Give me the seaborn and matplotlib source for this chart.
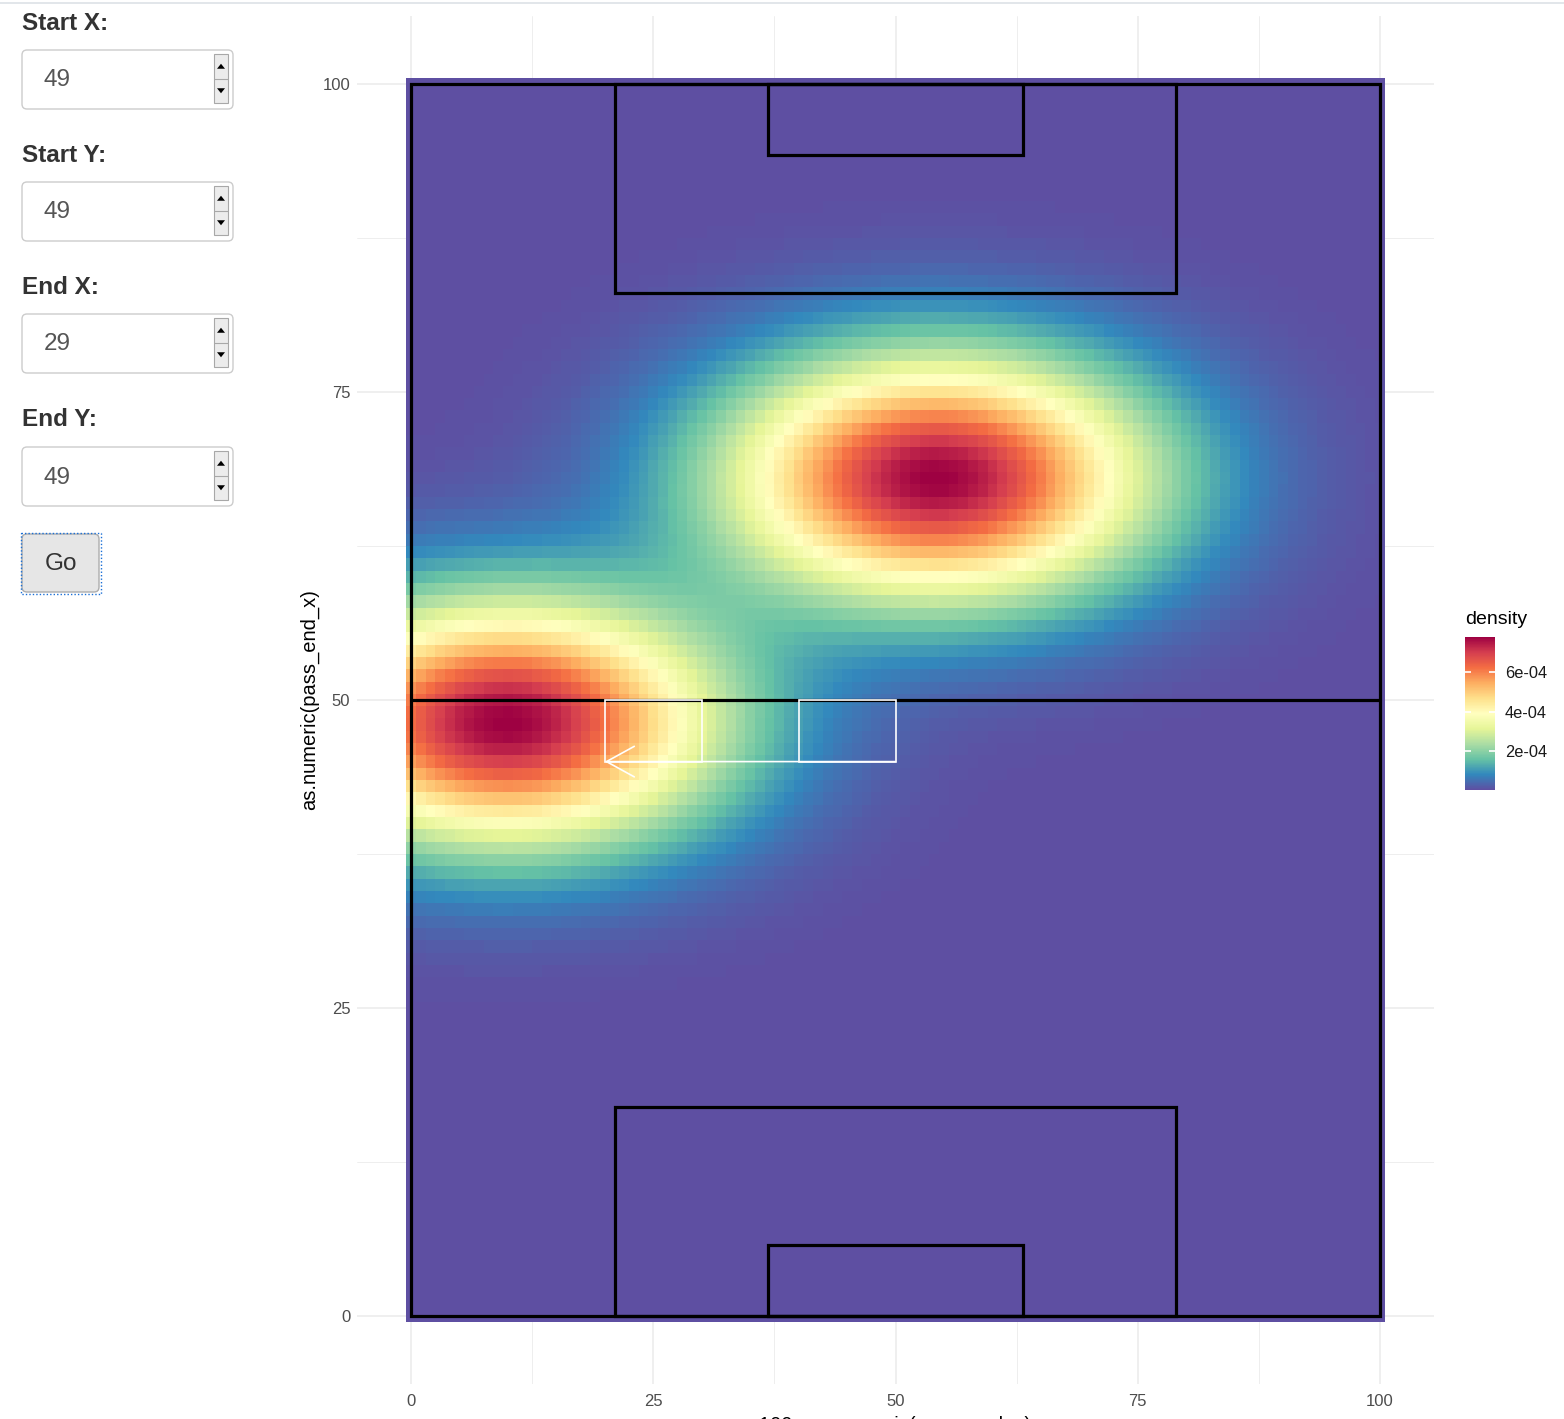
import numpy as np
import matplotlib
matplotlib.use("Agg")
import matplotlib.pyplot as plt
from matplotlib.patches import FancyBboxPatch, Rectangle, Polygon
import seaborn as sns

# ---------------------------------------------------------------
# Data
# ---------------------------------------------------------------
# pass end locations: horizontal axis = pass_end_y, vertical axis = pass_end_x
pass_end_y = [9.9, 54.3]
pass_end_x = [48.2, 68.0]
# kernel standard deviation along each axis
bw_y = 15.0
bw_x = 6.8

grid_vals = np.arange(0, 101)            # raster cell centres

axis_ticks = [0, 25, 50, 75, 100]
minor_ticks = [12.5, 37.5, 62.5, 87.5]
colorbar_ticks = [2e-4, 4e-4, 6e-4]
colorbar_labels = ["2e-04", "4e-04", "6e-04"]

# pitch markings (x0, x1, y0, y1)
pitch_outline = (0, 100, 0, 100)
halfway_line = 50
pitch_boxes = [
    (21.1, 78.9, 83.0, 100.0),
    (36.8, 63.2, 94.2, 100.0),
    (21.1, 78.9, 0.0, 17.0),
    (36.8, 63.2, 0.0, 5.8),
]

# selected zones and pass direction
start_zone = (40, 50, 45, 50)
end_zone = (20, 30, 45, 50)
pass_from = (50, 45)
pass_to = (20, 45)

# input panel
widget_labels = ["Start X:", "Start Y:", "End X:", "End Y:"]
widget_values = [49, 49, 29, 49]
button_label = "Go"

x_label = "100 - as.numeric(pass_end_y)"
y_label = "as.numeric(pass_end_x)"
legend_title = "density"

# ---------------------------------------------------------------
# Style
# ---------------------------------------------------------------
sns.set_theme(style="white")
plt.rcParams["font.family"] = ["Liberation Sans", "DejaVu Sans"]

W, H = 1564, 1419
DPI = 100
fig = plt.figure(figsize=(W / DPI, H / DPI), dpi=DPI)
fig.patch.set_facecolor("white")


def px_rect(x0, y0, x1, y1):
    """figure-fraction rect from pixel box (top-left origin)"""
    return [x0 / W, 1 - y1 / H, (x1 - x0) / W, (y1 - y0) / H]


# ---------------------------------------------------------------
# Density raster
# ---------------------------------------------------------------
gx, gy = np.meshgrid(grid_vals, grid_vals)
dens = np.zeros_like(gx, dtype=float)
for py_, px_ in zip(pass_end_y, pass_end_x):
    dens += np.exp(-0.5 * ((gx - py_) / bw_y) ** 2 - 0.5 * ((gy - px_) / bw_x) ** 2)
dens /= (2 * np.pi * bw_x * bw_y * len(pass_end_y))

cmap = sns.color_palette("Spectral_r", as_cmap=True)

lim = (-5.55, 105.55)
ax = fig.add_axes(px_rect(357.2, 15.6, 1433.8, 1384.4))
ax.set_facecolor("white")
edges = np.arange(-0.5, 101.5, 1.0)
mesh = ax.pcolormesh(edges, edges, dens, cmap=cmap, shading="flat",
                     vmin=dens.min(), vmax=dens.max(), antialiased=False,
                     linewidth=0, zorder=1)

ax.set_xlim(*lim)
ax.set_ylim(*lim)
ax.set_xticks(axis_ticks)
ax.set_yticks(axis_ticks)
ax.set_xticks(minor_ticks, minor=True)
ax.set_yticks(minor_ticks, minor=True)
ax.set_xticklabels([str(t) for t in axis_ticks])
ax.set_yticklabels([str(t) for t in axis_ticks])
ax.grid(which="major", color="#ebebeb", lw=1.1)
ax.grid(which="minor", color="#ebebeb", lw=0.6)
ax.set_axisbelow(True)
for s in ax.spines.values():
    s.set_visible(False)
ax.tick_params(which="both", length=0)
ax.tick_params(axis="y", pad=5, labelsize=12, labelcolor="#4d4d4d")
ax.tick_params(axis="x", pad=7, labelsize=12, labelcolor="#4d4d4d")

# pitch lines
pk = dict(fill=False, ec="black", lw=2.3, zorder=3, joinstyle="miter")
x0, x1, y0, y1 = pitch_outline
ax.add_patch(Rectangle((x0, y0), x1 - x0, y1 - y0, **pk))
ax.plot([x0, x1], [halfway_line, halfway_line], color="black", lw=2.3, zorder=3)
for bx0, bx1, by0, by1 in pitch_boxes:
    ax.add_patch(Rectangle((bx0, by0), bx1 - bx0, by1 - by0, **pk))

# selected zones
for zx0, zx1, zy0, zy1 in (start_zone, end_zone):
    ax.add_patch(Rectangle((zx0, zy0), zx1 - zx0, zy1 - zy0, fill=False,
                           ec="white", lw=1.2, zorder=4))
ax.annotate("", xy=pass_to, xytext=pass_from,
            arrowprops=dict(arrowstyle="->,head_length=2.0,head_width=1.1",
                            color="white", lw=1.2, shrinkA=0, shrinkB=0,
                            mutation_scale=10),
            zorder=5)

# axis titles
ax.set_ylabel(y_label, fontsize=14.5, color="black", va="center")
ax.yaxis.set_label_coords((310 - 357.2) / (1433.8 - 357.2), 0.5)
ax.set_xlabel(x_label, fontsize=14.5, color="black", va="top")
ax.xaxis.set_label_coords(0.5, -(1416 - 1384.4) / (1384.4 - 15.6))

# ---------------------------------------------------------------
# Colour bar legend
# ---------------------------------------------------------------
cax = fig.add_axes(px_rect(1465, 637, 1495, 790))
cb = fig.colorbar(mesh, cax=cax, ticks=colorbar_ticks)
cb.outline.set_visible(False)
cax.set_yticklabels(colorbar_labels)
cax.tick_params(length=0, pad=7, labelsize=11.8, labelcolor="#1a1a1a")
cax.hlines(colorbar_ticks, 0, 0.2, color="white", lw=1.2)
cax.hlines(colorbar_ticks, 0.8, 1.0, color="white", lw=1.2)
fig.text(1465 / W, 1 - 620 / H, legend_title, fontsize=14, color="black",
         ha="left", va="center")

# ---------------------------------------------------------------
# Input panel
# ---------------------------------------------------------------
ui = fig.add_axes([0, 0, 1, 1], zorder=5)
ui.set_xlim(0, W)
ui.set_ylim(H, 0)
ui.axis("off")
ui.patch.set_visible(False)

ui.plot([0, W], [3, 3], color="#dde2e6", lw=1.2)

label_y = [23, 155, 287, 420]
box_top = [50, 182, 314, 447]
box_h = 59
for lab, val, ly, bt in zip(widget_labels, widget_values, label_y, box_top):
    ui.text(22, ly, lab, fontsize=17.5, fontweight="bold", color="#333333",
            ha="left", va="center")
    ui.add_patch(FancyBboxPatch((22, bt), 211, box_h,
                                boxstyle="round,pad=0,rounding_size=5",
                                fc="white", ec="#cccccc", lw=1.0))
    ui.text(44, bt + box_h / 2 + 1, str(val), fontsize=17.5, color="#555555",
            ha="left", va="center")
    # spinner
    sx0, sx1 = 214, 228
    st, sb = bt + 4, bt + box_h - 6
    sm = (st + sb) / 2
    ui.add_patch(Rectangle((sx0, st), sx1 - sx0, sb - st, fc="#ececec",
                           ec="#a8a8a8", lw=0.8))
    ui.plot([sx0, sx1], [sm, sm], color="#a8a8a8", lw=0.8)
    cx = (sx0 + sx1) / 2
    ui.add_patch(Polygon([[cx - 4, (st + sm) / 2 + 2.5], [cx + 4, (st + sm) / 2 + 2.5],
                          [cx, (st + sm) / 2 - 2.5]], closed=True, fc="black", ec="none"))
    ui.add_patch(Polygon([[cx - 4, (sm + sb) / 2 - 2.5], [cx + 4, (sm + sb) / 2 - 2.5],
                          [cx, (sm + sb) / 2 + 2.5]], closed=True, fc="black", ec="none"))

# Go button
ui.add_patch(FancyBboxPatch((22, 534), 77, 58,
                            boxstyle="round,pad=0,rounding_size=5",
                            fc="#e6e6e6", ec="#adadad", lw=1.0))
ui.add_patch(Rectangle((20.5, 532.5), 80, 61, fill=False, ec="#1a6fd6",
                       lw=1.0, ls=(0, (1, 1.5))))
ui.text(60.5, 564, button_label, fontsize=17.5, color="#333333",
        ha="center", va="center")

fig.savefig("out.png", dpi=DPI)
